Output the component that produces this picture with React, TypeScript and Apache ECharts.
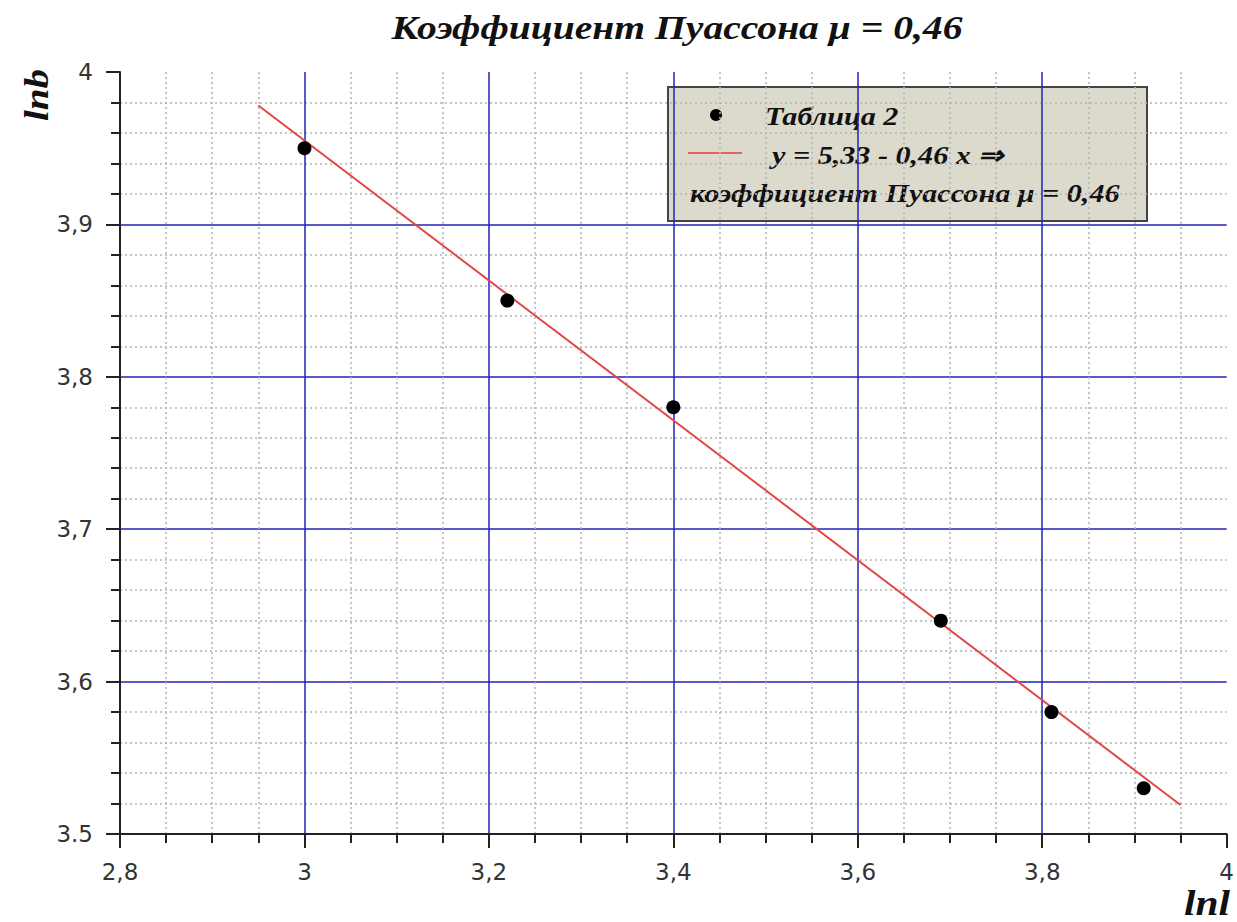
import React, { useEffect, useRef } from "react";
import * as echarts from "echarts";

const pointsX = [3.0, 3.22, 3.4, 3.69, 3.81, 3.91];
const pointsY = [3.95, 3.85, 3.78, 3.64, 3.58, 3.53];
const fitX = [2.95, 3.95];
const fitY = [3.978, 3.519];
const xTickLabels: Record<string, string> = { "2.8": "2,8", "3": "3", "3.2": "3,2", "3.4": "3,4", "3.6": "3,6", "3.8": "3,8", "4": "4" };
const yTickLabels: Record<string, string> = { "3.5": "3.5", "3.6": "3,6", "3.7": "3,7", "3.8": "3,8", "3.9": "3,9", "4": "4" };

const titleText = "Коэффициент Пуассона μ = 0,46";
const legendScatter = "Таблица 2";
const legendLine = "y = 5,33 - 0,46 x ⇒";
const legendNote = "коэффициент Пуассона μ = 0,46";

const serif = "'Liberation Serif', 'Times New Roman', serif";
const labelFont = "'DejaVu Sans', Tahoma, sans-serif";

export default function App() {
  const ref = useRef<HTMLDivElement>(null);
  useEffect(() => {
    if (!ref.current) return;
    const chart = echarts.init(ref.current, undefined, { renderer: "svg" });
    const round = (v: number) => String(Math.round(v * 1000) / 1000);
    const legendFont = `italic bold 26px ${serif}`;
    chart.setOption({
      animation: false,
      backgroundColor: "#ffffff",
      grid: { left: 120, top: 72, right: 6, bottom: 88, containLabel: false },
      xAxis: {
        type: "value",
        min: 2.8,
        max: 4,
        interval: 0.2,
        axisLine: { show: true, onZero: false, lineStyle: { color: "#222", width: 2 } },
        axisTick: { show: true, inside: false, length: 14, lineStyle: { color: "#222", width: 2 } },
        minorTick: { show: true, splitNumber: 4, length: 9, lineStyle: { color: "#222", width: 2 } },
        axisLabel: {
          margin: 26,
          fontFamily: labelFont,
          fontSize: 23,
          color: "#333",
          formatter: (v: number) => xTickLabels[round(v)] ?? round(v),
        },
        splitLine: { show: true, showMinLine: false, showMaxLine: false, lineStyle: { color: "#2222b8", width: 1.5 } },
        minorSplitLine: { show: true, lineStyle: { color: "#b4b4b4", type: [2, 3], width: 1.5 } },
      },
      yAxis: {
        type: "value",
        min: 3.5,
        max: 4,
        interval: 0.1,
        axisLine: { show: true, onZero: false, lineStyle: { color: "#222", width: 2 } },
        axisTick: { show: true, inside: false, length: 14, lineStyle: { color: "#222", width: 2 } },
        minorTick: { show: true, splitNumber: 5, length: 9, lineStyle: { color: "#222", width: 2 } },
        axisLabel: {
          margin: 27,
          fontFamily: labelFont,
          fontSize: 23,
          color: "#333",
          formatter: (v: number) => yTickLabels[round(v)] ?? round(v),
        },
        splitLine: { show: true, showMinLine: false, showMaxLine: false, lineStyle: { color: "#2222b8", width: 1.5 } },
        minorSplitLine: { show: true, lineStyle: { color: "#b4b4b4", type: [2, 3], width: 1.5 } },
      },
      series: [
        {
          name: legendLine,
          type: "line",
          data: fitX.map((x, i) => [x, fitY[i]]),
          showSymbol: false,
          symbol: "none",
          lineStyle: { color: "#e04848", width: 2 },
          z: 3,
        },
        {
          name: legendScatter,
          type: "scatter",
          data: pointsX.map((x, i) => [x, pointsY[i]]),
          symbolSize: 14,
          itemStyle: { color: "#000", opacity: 1 },
          z: 4,
        },
      ],
      graphic: [
        {
          type: "text",
          x: 677,
          y: 28,
          scaleX: 1.2,
          style: {
            text: titleText,
            font: `italic bold 33px ${serif}`,
            fill: "#111",
            textAlign: "center",
            textVerticalAlign: "middle",
          },
        },
        {
          type: "text",
          x: 36,
          y: 95,
          rotation: Math.PI / 2,
          scaleX: 1.15,
          style: {
            text: "lnb",
            font: `italic bold 34px ${serif}`,
            fill: "#111",
            textAlign: "center",
            textVerticalAlign: "middle",
          },
        },
        {
          type: "text",
          x: 1207,
          y: 902,
          scaleX: 1.15,
          style: {
            text: "lnl",
            font: `italic bold 36px ${serif}`,
            fill: "#111",
            textAlign: "center",
            textVerticalAlign: "middle",
          },
        },
        {
          type: "group",
          z: 100,
          children: [
            {
              type: "rect",
              shape: { x: 668, y: 87, width: 479, height: 134 },
              style: { fill: "rgba(205,204,186,0.72)", stroke: "#444", lineWidth: 2 },
            },
            { type: "circle", shape: { cx: 716, cy: 115, r: 6 }, style: { fill: "#000" } },
            {
              type: "text",
              x: 765,
              y: 116,
              scaleX: 1.16,
              style: { text: legendScatter, font: legendFont, fill: "#111", textVerticalAlign: "middle" },
            },
            { type: "line", shape: { x1: 688, y1: 153, x2: 742, y2: 153 }, style: { stroke: "#e86060", lineWidth: 2 } },
            {
              type: "text",
              x: 772,
              y: 155,
              scaleX: 1.16,
              style: { text: legendLine, font: legendFont, fill: "#111", textVerticalAlign: "middle" },
            },
            {
              type: "text",
              x: 690,
              y: 193,
              scaleX: 1.16,
              style: { text: legendNote, font: legendFont, fill: "#111", textVerticalAlign: "middle" },
            },
          ],
        },
      ],
    });
    return () => chart.dispose();
  }, []);
  return (
    <div
      ref={ref}
      style={{ position: "absolute", left: 0, top: 0, width: 1237, height: 922, background: "#fff" }}
    />
  );
}
